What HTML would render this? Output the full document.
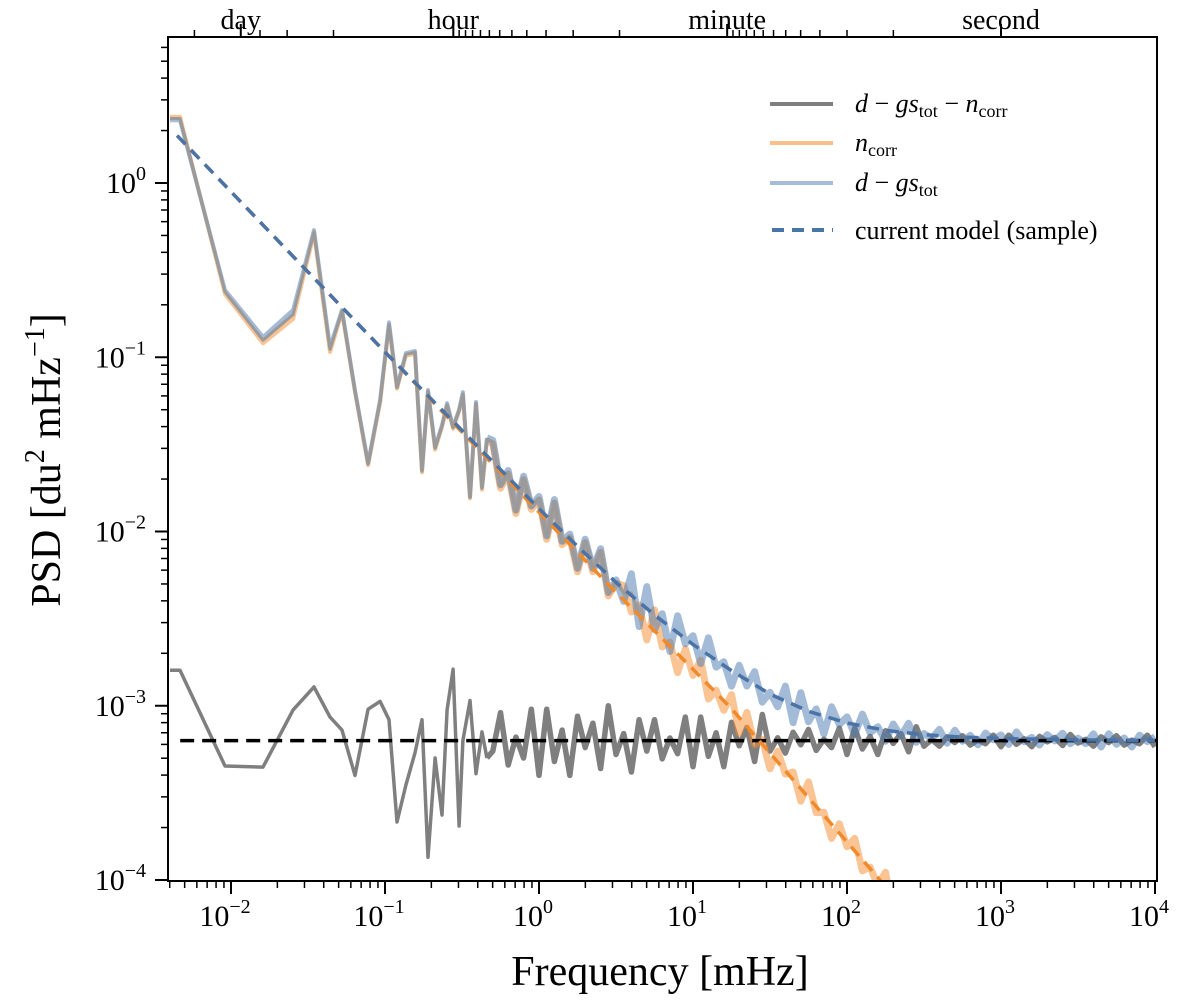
<!DOCTYPE html>
<html><head><meta charset="utf-8"><title>PSD chart</title>
<style>
html,body{margin:0;padding:0;background:#fff;}
svg{display:block;font-family:"Liberation Serif","DejaVu Serif",serif;}
</style></head>
<body>
<svg id="chart" xmlns="http://www.w3.org/2000/svg" width="1200" height="1001" viewBox="0 0 1200 1001">
  <defs><clipPath id="plotclip"><rect x="168" y="37" width="989" height="844"/></clipPath></defs>
  <rect x="0" y="0" width="1200" height="1001" fill="#fff"/>
  <g id="series" clip-path="url(#plotclip)"></g>
  <g id="axes"></g>
  <g id="legend">
    <line x1="770" y1="104" x2="833" y2="104" stroke="#7f7f7f" stroke-width="4"/>
    <text x="855" y="112" font-size="26"><tspan font-style="italic">d</tspan> − <tspan font-style="italic">gs</tspan><tspan font-size="18" dy="5">tot</tspan><tspan dy="-5"> − </tspan><tspan font-style="italic">n</tspan><tspan font-size="18" dy="5">corr</tspan></text>
    <line x1="770" y1="143" x2="833" y2="143" stroke="#f9c08c" stroke-width="4"/>
    <text x="855" y="151" font-size="26"><tspan font-style="italic">n</tspan><tspan font-size="18" dy="5">corr</tspan></text>
    <line x1="770" y1="183" x2="833" y2="183" stroke="#a4bcd8" stroke-width="4"/>
    <text x="855" y="191" font-size="26"><tspan font-style="italic">d</tspan> − <tspan font-style="italic">gs</tspan><tspan font-size="18" dy="5">tot</tspan></text>
    <line x1="772" y1="230" x2="833" y2="230" stroke="#4a74a8" stroke-width="4" stroke-dasharray="12 8"/>
    <text x="855" y="239" font-size="26">current model (sample)</text>
  </g>
  <text x="660" y="985" font-size="42" text-anchor="middle">Frequency [mHz]</text>
  <text transform="translate(60,460) rotate(-90)" font-size="42" text-anchor="middle">PSD [du<tspan font-size="28" dy="-16">2</tspan><tspan dy="16"> mHz</tspan><tspan font-size="28" dy="-16">−1</tspan><tspan dy="16">]</tspan></text>
</svg>
<script>
// ---- data (log10 frequency in mHz, log10 PSD) ----
const lowFreqLog = [-2.396,-2.331,-2.039,-1.792,-1.597,-1.461,-1.357,-1.279,-1.195,-1.110,-1.032,-0.974,-0.922,-0.864,-0.805,-0.760,-0.721,-0.675,-0.630,-0.597,-0.558,-0.519,-0.494,-0.448,-0.409,-0.370,-0.338];
const hiFreqLog = Array.from({length: 87}, (_, i) => -0.30 + 0.05 * i);
const residualLow = [-2.796,-2.796,-3.346,-3.352,-3.024,-2.892,-3.065,-3.14,-3.40,-3.02,-2.975,-3.08,-3.667,-3.455,-3.27,-3.08,-3.87,-3.3,-3.627,-3.024,-2.79,-3.69,-3.2,-2.97,-3.39,-3.15,-3.30];
const residualHi = [-3.26,-3.04,-3.34,-3.18,-3.30,-3.02,-3.40,-3.02,-3.32,-3.14,-3.40,-3.06,-3.24,-3.10,-3.36,-3.00,-3.28,-3.16,-3.38,-3.08,-3.26,
 -3.08,-3.305,-3.185,-3.275,-3.065,-3.35,-3.065,-3.29,-3.155,-3.35,-3.095,-3.23,-3.125,-3.32,-3.05,-3.26,
 -3.184,-3.272,-3.152,-3.224,-3.136,-3.256,-3.192,-3.24,-3.128,-3.28,-3.128,-3.248,-3.176,-3.28,-3.144,-3.216,-3.16,-3.264,-3.12,-3.232,
 -3.193,-3.232,-3.179,-3.211,-3.172,-3.225,-3.197,-3.218,-3.169,-3.235,-3.169,-3.221,-3.19,-3.235,-3.176,-3.207,-3.183,-3.228,-3.165,-3.214,
 -3.193,-3.232,-3.179,-3.211,-3.172,-3.225,-3.197,-3.218,-3.169,-3.235];
const totalLow = [0.36,0.36,-0.614,-0.884,-0.729,-0.27,-0.94,-0.729,-1.19,-1.607,-1.245,-0.80,-1.17,-0.976,-0.964,-1.647,-1.188,-1.515,-1.39,-1.263,-1.40,-1.30,-1.20,-1.80,-1.257,-1.745,-1.463];
const totalHi = [-1.477,-1.732,-1.650,-1.877,-1.683,-1.853,-1.799,-2.025,-1.817,-2.056,-2.015,-2.211,-2.044,-2.211,-2.099,-2.350,-2.278,-2.401,-2.243,-2.546,-2.316,-2.563,-2.472,-2.688,-2.484,-2.644,
 -2.598,-2.758,-2.610,-2.778,-2.747,-2.888,-2.768,-2.887,-2.804,-2.979,-2.923,-3.006,-2.887,-3.097,-2.925,-3.092,-3.018,-3.162,-3.006,-3.108,
 -3.064,-3.165,-3.048,-3.155,-3.120,-3.204,-3.105,-3.173,-3.101,-3.210,-3.159,
 -3.189,-3.136,-3.215,-3.141,-3.204,-3.170,-3.224,-3.157,-3.195,-3.168,-3.222,-3.150,-3.206,-3.182,-3.226,-3.166,-3.202,-3.158,-3.218,-3.186,
 -3.217,-3.161,-3.237,-3.161,-3.221,-3.185,-3.237,-3.169,-3.205,-3.177];
const corrLow = [0.38,0.38,-0.637,-0.92,-0.78,-0.29,-0.97,-0.74,-1.20,-1.62,-1.26,-0.82,-1.18,-0.99,-0.98,-1.66,-1.20,-1.53,-1.40,-1.28,-1.41,-1.31,-1.22,-1.81,-1.27,-1.76,-1.48];
const corrHi = [-1.497,-1.752,-1.670,-1.897,-1.703,-1.873,-1.819,-2.045,-1.837,-2.076,-2.035,-2.231,-2.064,-2.231,-2.119,-2.370,-2.298,
 -2.310,-2.462,-2.422,-2.622,-2.450,-2.662,-2.634,-2.810,-2.674,-2.826,-2.738,-2.962,-2.910,-3.026,
 -2.936,-3.158,-3.038,-3.224,-3.194,-3.362,-3.260,-3.392,-3.380,-3.548,-3.437,-3.614,-3.611,-3.761,-3.677,-3.809,-3.761,-3.947,-3.926,-4.031,-3.956,-4.178,-4.058];
const modelFreqLog = [-2.35,-2,-1.5,-1,-0.5,0,0.25,0.5,0.75,1.0,1.25,1.5,1.75,2.0,2.25,2.5,2.75,3.0,3.5,4.0];
const modelTotalLog = [0.272,-0.05,-0.51,-0.97,-1.42,-1.869,-2.085,-2.292,-2.479,-2.648,-2.798,-2.933,-3.032,-3.099,-3.141,-3.166,-3.18,-3.188,-3.196,-3.199];
const modelCorrLog = [0.272,-0.05,-0.51,-0.97,-1.43,-1.89,-2.12,-2.35,-2.57,-2.79,-3.017,-3.272,-3.527,-3.782,-4.037,-4.29];
const whiteNoiseLog = -3.2;
const xTickExps = [-2,-1,0,1,2,3,4];
const yTickExps = [0,-1,-2,-3,-4];
const topMajorLabels = ["day","hour","minute","second"];
const topMajorFreqs = [1/86.4, 1/3.6, 1000/60, 1000];

// ---- axis functions ----
const X = lf => 539 + 154 * lf;
const Y = lv => 183 - 174.25 * lv;
const NS = "http://www.w3.org/2000/svg";
const seriesG = document.getElementById("series");
const axesG = document.getElementById("axes");
function mk(tag, attrs, parent) {
  const el = document.createElementNS(NS, tag);
  for (const k in attrs) el.setAttribute(k, attrs[k]);
  parent.appendChild(el);
  return el;
}
function pathD(xs, ys) {
  const n = Math.min(xs.length, ys.length);
  let d = "";
  for (let i = 0; i < n; i++) d += (i ? "L" : "M") + X(xs[i]).toFixed(1) + "," + Y(ys[i]).toFixed(1);
  return d;
}
const nLow = lowFreqLog.length;
const freqAll = lowFreqLog.concat(hiFreqLog);
const residualAll = residualLow.concat(residualHi);
const totalAll = totalLow.concat(totalHi);
const corrAll = corrLow.concat(corrHi);
const freqHiJ = freqAll.slice(nLow - 1);

// residual (grey)
const pRes = mk("path", {d: pathD(freqAll.slice(0, nLow), residualLow), fill: "none", stroke: "#7f7f7f", "stroke-width": 3.5, "stroke-linejoin": "round"}, seriesG);


const pResH = mk("path", {d: pathD(freqHiJ, residualAll.slice(nLow - 1)), fill: "none", stroke: "#7f7f7f", "stroke-width": 5.5, "stroke-linejoin": "round"}, seriesG);


// n_corr (orange)
const pCorr = mk("path", {d: pathD(freqAll.slice(0, nLow), corrLow), fill: "none", stroke: "#f58a2a", "stroke-opacity": 0.5, "stroke-width": 4, "stroke-linejoin": "round"}, seriesG);


const pCorrH = mk("path", {d: pathD(freqHiJ, corrAll.slice(nLow - 1)), fill: "none", stroke: "#f58a2a", "stroke-opacity": 0.5, "stroke-width": 7, "stroke-linejoin": "round"}, seriesG);


// d - gs (blue)
const pTot = mk("path", {d: pathD(freqAll.slice(0, nLow), totalLow), fill: "none", stroke: "#4a78b0", "stroke-opacity": 0.5, "stroke-width": 4, "stroke-linejoin": "round"}, seriesG);


const pTotH = mk("path", {d: pathD(freqHiJ, totalAll.slice(nLow - 1)), fill: "none", stroke: "#4a78b0", "stroke-opacity": 0.5, "stroke-width": 7, "stroke-linejoin": "round"}, seriesG);


// grey overlay on the low-frequency upper curve
const nOv = nLow + 20;
const pOv = mk("path", {d: pathD(freqAll.slice(0, nOv), totalAll.slice(0, nOv).map((v, i) => (v + corrAll[i]) / 2)), fill: "none", stroke: "#9a9a9a", "stroke-width": 3, "stroke-linejoin": "round"}, seriesG);


// white noise level
const pWhite = mk("line", {x1: X(-2.33), x2: 1157, y1: Y(whiteNoiseLog), y2: Y(whiteNoiseLog), stroke: "#000", "stroke-width": 3.5, "stroke-dasharray": "14 8"}, seriesG);


// model corr (orange dashed)
const pMC = mk("path", {d: pathD(modelFreqLog, modelCorrLog), fill: "none", stroke: "#f08a2a", "stroke-width": 3.5, "stroke-dasharray": "12 8"}, seriesG);


// model total (blue dashed)
const pMT = mk("path", {d: pathD(modelFreqLog, modelTotalLog), fill: "none", stroke: "#4a74a8", "stroke-width": 3.5, "stroke-dasharray": "12 8"}, seriesG);



// ---- axes frame ----
const frame = mk("rect", {x: 168, y: 37, width: 989, height: 844, fill: "none", stroke: "#000", "stroke-width": 2}, axesG);



// bottom ticks
for (let e = -3; e <= 4; e++) {
  for (let m = 1; m <= 9; m++) {
    const lf = e + Math.log10(m);
    const x = X(lf);
    if (x < 167.5 || x > 1158) continue;
    const t = mk("line", {x1: x, x2: x, y1: 881, y2: 881 + (m === 1 ? 13 : 7), stroke: "#000", "stroke-width": m === 1 ? 2 : 1.5}, axesG);
    
    
  }
}
xTickExps.forEach(e => {
  const t = mk("text", {x: X(e) - 6, y: 926, "font-size": 30, "text-anchor": "middle"}, axesG);
  
  
  t.textContent = "10";
  const s = mk("tspan", {"font-size": 20, dy: -13}, t);
  s.textContent = e < 0 ? "−" + (-e) : String(e);
});
// left ticks
for (let e = -4; e <= 0; e++) {
  for (let m = 1; m <= 9; m++) {
    const lv = e + Math.log10(m);
    const y = Y(lv);
    if (y < 36 || y > 882) continue;
    const t = mk("line", {x1: 168, x2: 168 - (m === 1 ? 13 : 7), y1: y, y2: y, stroke: "#000", "stroke-width": m === 1 ? 2 : 1.5}, axesG);
    
    
  }
}
yTickExps.forEach(e => {
  const t = mk("text", {x: 146, y: Y(e) + 10, "font-size": 30, "text-anchor": "end"}, axesG);
  
  
  t.textContent = "10";
  const s = mk("tspan", {"font-size": 20, dy: -13}, t);
  s.textContent = e < 0 ? "−" + (-e) : String(e);
});
// top (period) axis
const topMinor = [1/172.8, 1/64.8, 1/43.2, 1/21.6];
[55,50,45,40,35,30,25,20,15,10,5].forEach(mn => topMinor.push(1000 / (60 * mn)));
[55,50,45,40,35,30,25,20,15,10,5].forEach(s => topMinor.push(1000 / s));
topMinor.forEach(f => {
  const x = X(Math.log10(f));
  const t = mk("line", {x1: x, x2: x, y1: 37, y2: 30, stroke: "#000", "stroke-width": 1.5}, axesG);
  
  
});
topMajorFreqs.forEach((f, i) => {
  const x = X(Math.log10(f));
  const t = mk("line", {x1: x, x2: x, y1: 37, y2: 24, stroke: "#000", "stroke-width": 2}, axesG);
  
  
  const lab = mk("text", {x: x, y: 29, "font-size": 28, "text-anchor": "middle"}, axesG);
  
  
  lab.textContent = topMajorLabels[i];
});
</script>
</body></html>
